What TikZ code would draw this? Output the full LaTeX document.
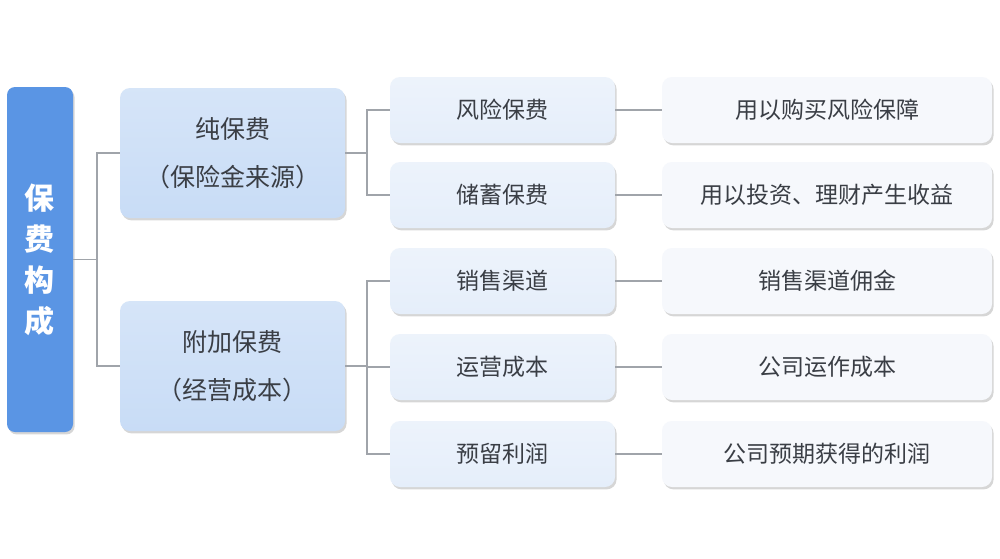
\documentclass[tikz,border=0pt]{standalone}
\usepackage{fontspec}
\setmainfont{Noto Sans CJK SC}
\usetikzlibrary{shadows}
\definecolor{rootblue}{HTML}{5A95E4}
\definecolor{lvtwo}{HTML}{C8DCF6}
\definecolor{lvthree}{HTML}{E5EEFA}
\definecolor{lvfour}{HTML}{F6F8FC}
\definecolor{txt}{HTML}{3A3E45}
\definecolor{conn}{HTML}{A0A4AA}
\tikzset{
  boxbase/.style={rounded corners=5pt, inner sep=0pt, text=txt, align=center,
    drop shadow={shadow xshift=0.8pt, shadow yshift=-1.2pt, opacity=0.35, fill=black!45}},
  rootbox/.style={boxbase, fill=rootblue, minimum width=33pt, minimum height=172.5pt,
    text=white, font=\fontsize{15}{20.5}\selectfont\bfseries, rounded corners=4pt},
  lvtwobox/.style={boxbase, top color=lvtwo!75!white, bottom color=lvtwo, minimum width=112.5pt, minimum height=65pt,
    font=\fontsize{12.5}{24}\selectfont},
  lvthreebox/.style={boxbase, top color=lvthree!70!white, bottom color=lvthree, minimum width=112.5pt, minimum height=33pt,
    font=\fontsize{11.5}{14}\selectfont},
  lvfourbox/.style={boxbase, fill=lvfour, minimum width=165pt, minimum height=33pt,
    font=\fontsize{11.5}{14}\selectfont},
  link/.style={draw=conn, line width=0.6pt}
}
\begin{document}
\begin{tikzpicture}[x=0.5pt,y=-0.5pt]
\useasboundingbox[fill=white] (0,0) rectangle (1000,558);
\node[rootbox] (root) at (40,259.5) {保\\费\\构\\成};
\node[lvtwobox] (pa) at (232.5,153) {纯保费\\（保险金来源）};
\node[lvtwobox] (pb) at (232.5,366) {附加保费\\（经营成本）};
\node[lvthreebox] (ta) at (502.5,110) {风险保费};
\node[lvthreebox] (tb) at (502.5,195) {储蓄保费};
\node[lvthreebox] (tc) at (502.5,281) {销售渠道};
\node[lvthreebox] (td) at (502.5,367) {运营成本};
\node[lvthreebox] (te) at (502.5,454) {预留利润};
\node[lvfourbox] (fa) at (827,110) {用以购买风险保障};
\node[lvfourbox] (fb) at (827,195) {用以投资、理财产生收益};
\node[lvfourbox] (fc) at (827,281) {销售渠道佣金};
\node[lvfourbox] (fd) at (827,367) {公司运作成本};
\node[lvfourbox] (fe) at (827,454) {公司预期获得的利润};
\coordinate (j1) at (97,259.5);
\coordinate (j2) at (367,153);
\coordinate (j3) at (367,366);
\begin{scope}[on background layer/.try]
\draw[link] (root.east) -- (j1);
\draw[link] (j1) |- (pa.west);
\draw[link] (j1) |- (pb.west);
\draw[link] (pa.east) -- (j2);
\draw[link] (j2) |- (ta.west);
\draw[link] (j2) |- (tb.west);
\draw[link] (pb.east) -- (j3);
\draw[link] (j3) |- (tc.west);
\draw[link] (j3) |- (td.west);
\draw[link] (j3) |- (te.west);
\draw[link] (ta.east) -- (fa.west);
\draw[link] (tb.east) -- (fb.west);
\draw[link] (tc.east) -- (fc.west);
\draw[link] (td.east) -- (fd.west);
\draw[link] (te.east) -- (fe.west);
\end{scope}
\end{tikzpicture}
\end{document}
